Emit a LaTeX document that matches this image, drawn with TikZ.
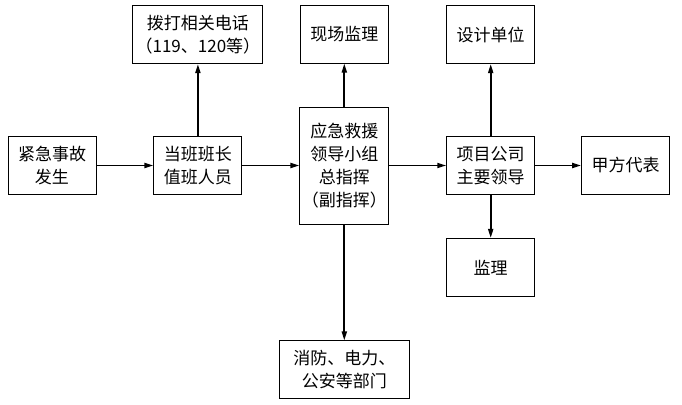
\documentclass[tikz,border=0pt]{standalone}
\usepackage{fontspec}
\newfontfamily\cjk{Noto Sans CJK SC}
\usetikzlibrary{arrows.meta, positioning}

\begin{document}
\begin{tikzpicture}[
    x=1pt, y=-1pt,
    stepbox/.style={draw, line width=0.9pt, minimum width=88pt, minimum height=58pt, align=center, inner sep=2pt, font=\cjk\fontsize{17}{23}\selectfont},
    widebox/.style={stepbox, minimum width=130pt},
    tallbox/.style={stepbox, minimum height=117pt},
    flow/.style={-{Triangle[length=9pt, width=5pt]}, line width=1.8pt}
]
\useasboundingbox (0,0) rectangle (682,404);

% main row
\node[stepbox] (event) at (52,165.5) {紧急事故\\发生};
\node[stepbox, right=57pt of event] (duty) {当班班长\\值班人员};
\node[tallbox, right=57pt of duty] (lead) {应急救援\\领导小组\\总指挥\\（副指挥）};
\node[stepbox, right=57pt of lead] (comp) {项目公司\\主要领导};
\node[stepbox, right=46pt of comp] (owner) {甲方代表};

% upper row
\node[widebox, above=72pt of duty] (call) {拨打相关电话\\（119、120等）};
\node[stepbox, above=43pt of lead] (site) {现场监理};
\node[stepbox, above=72pt of comp] (design) {设计单位};

% lower row
\node[stepbox, below=43pt of comp] (super) {监理};
\node[widebox, below=116pt of lead] (dept) {消防、电力、\\公安等部门};

% connections
\draw[flow] (event) -- (duty);
\draw[flow] (duty) -- (lead);
\draw[flow] (lead) -- (comp);
\draw[flow] (comp) -- (owner);
\draw[flow] (duty) -- (call);
\draw[flow] (lead) -- (site);
\draw[flow] (comp) -- (design);
\draw[flow] (comp) -- (super);
\draw[flow] (lead) -- (dept);
\end{tikzpicture}
\end{document}
